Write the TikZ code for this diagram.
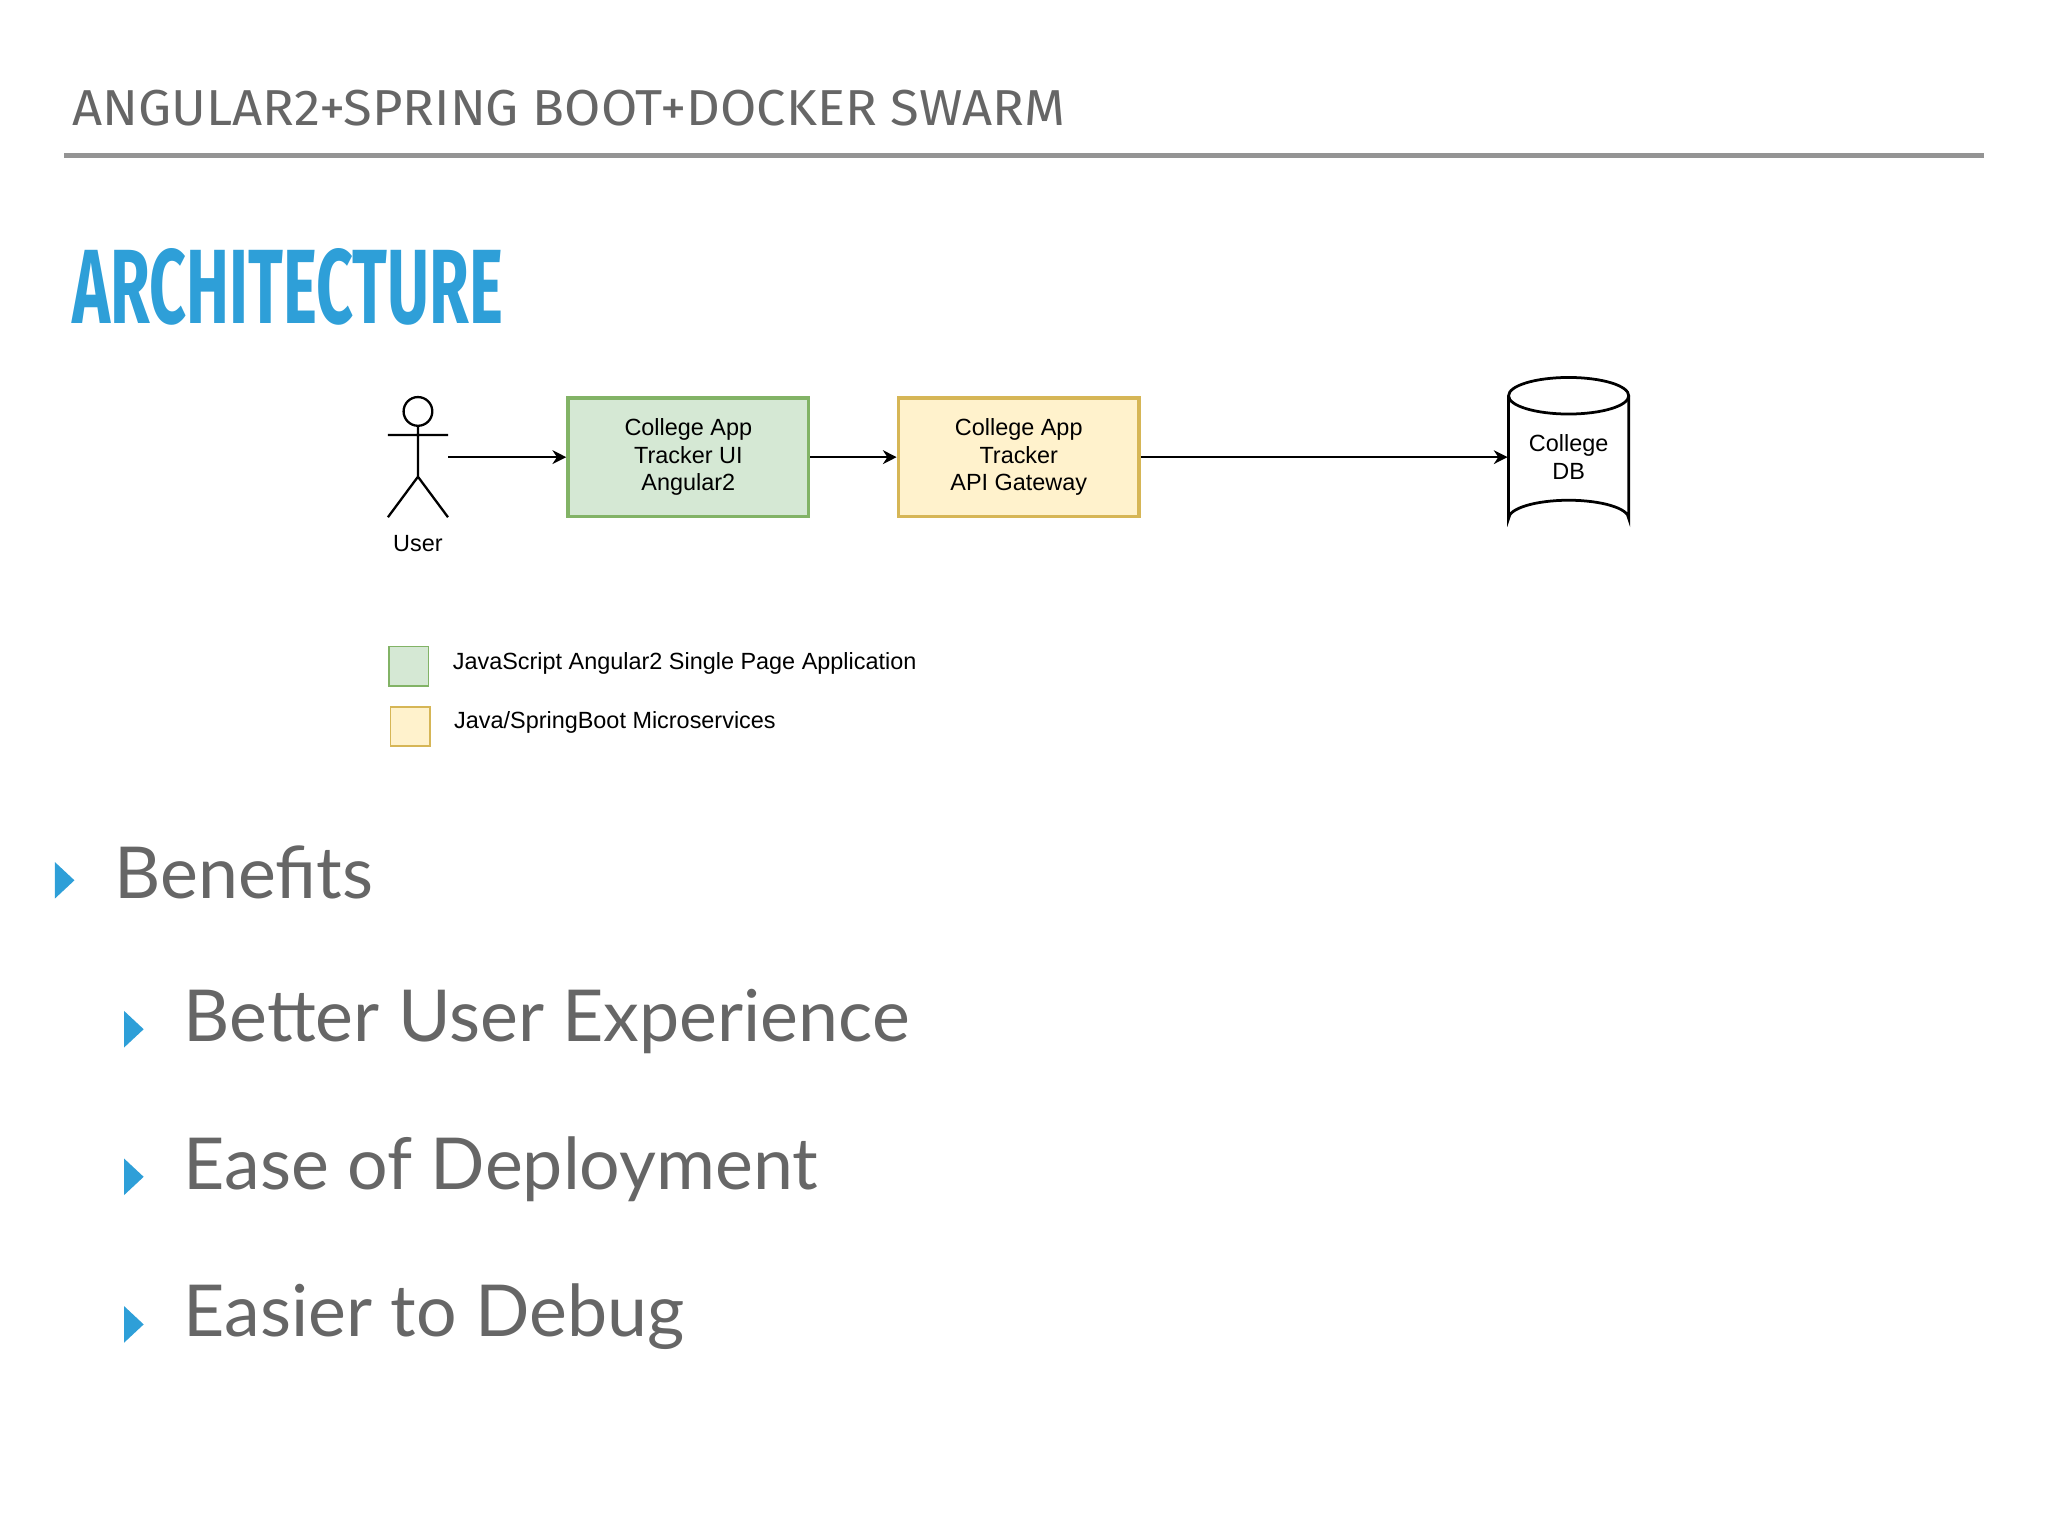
\documentclass[tikz,border=0pt]{standalone}
\usepackage{fontspec}
\setmainfont{Liberation Sans}
\newfontfamily\headfont{Fira Sans}
\newfontfamily\bulletfont{Lato}
\usetikzlibrary{shapes.geometric,arrows.meta,positioning}
\definecolor{slidegray}{HTML}{666666}
\definecolor{titleblue}{HTML}{2E9FD8}
\definecolor{uigreen}{HTML}{D5E8D4}
\definecolor{uigreenline}{HTML}{82B366}
\definecolor{apiyellow}{HTML}{FFF2CC}
\definecolor{apiyellowline}{HTML}{D6B656}
\tikzset{
  small/.style={font=\fontsize{5.1}{6}\selectfont},
  box/.style={draw, line width=0.8pt, minimum width=1.84cm, minimum height=0.91cm,
    align=center, small, inner sep=0pt},
  flow/.style={-{Stealth[length=3pt,width=3pt]}, line width=0.5pt},
  bullet/.style={fill=titleblue, draw=none},
  item/.style={anchor=west, text=slidegray, inner sep=0pt, font=\bulletfont\fontsize{15.6}{18}\selectfont},
}
\begin{document}
\begin{tikzpicture}[x=0.01cm, y=-0.01cm]
\useasboundingbox (0,0) rectangle (1568,1176);

% header
\node[anchor=west, text=slidegray, inner sep=0pt, font=\headfont\fontsize{11}{13}\selectfont] (head) at (55,83)
  {\scalebox{1.04}[1]{ANGULAR2+SPRING BOOT+DOCKER SWARM}};
\draw[slidegray!70, line width=1pt] (49,119) -- (1519,119);
\node[anchor=west, text=titleblue, font=\headfont\bfseries\fontsize{23}{26}\selectfont, inner sep=0pt] (title) at (55,220)
  {\scalebox{0.61}[1]{ARCHITECTURE}};

% actor
\draw[line width=0.5pt] (320,315) circle (11);
\draw[line width=0.5pt] (320,326) -- (320,365) (297,333) -- (343,333)
  (297,396) -- (320,365) -- (343,396);
\coordinate (user) at (343,350);
\node[small] (userlabel) at (320,416) {User};

% boxes
\node[box, fill=uigreen, draw=uigreenline] (ui) at (527,350) {College App\\Tracker UI\\Angular2};
\node[box, fill=apiyellow, draw=apiyellowline] (gw) at (780,350) {College App\\Tracker\\API Gateway};

% database
\node[small, align=center, minimum width=0.92cm, minimum height=1.22cm] (db) at (1201,350) {College\\DB};
\draw[line width=0.6pt] (1155,303) -- (1155,397) arc[start angle=180, end angle=360, x radius=46, y radius=14]
  -- (1247,303);
\draw[line width=0.6pt] (1201,303) ellipse[x radius=46, y radius=14];

\draw[flow] (user) -- (ui);
\draw[flow] (ui) -- (gw);
\draw[flow] (gw) -- (db);

% legend
\node[draw=uigreenline, fill=uigreen, minimum size=0.3cm, inner sep=0pt] (lgreen) at (313,510) {};
\node[draw=apiyellowline, fill=apiyellow, minimum size=0.3cm, inner sep=0pt] (lyellow) at (314,556) {};
\node[anchor=west, small, inner sep=0pt] at (346,508) {JavaScript Angular2 Single Page Application};
\node[anchor=west, small, inner sep=0pt] at (347,553) {Java/SpringBoot Microservices};

% bullets
\fill[bullet] (42,660) -- (57,674) -- (42,688) -- cycle;
\node[item] (benefits) at (87,668) {Benefits};
\foreach \y/\txt in {782/Better User Experience, 895/Ease of Deployment, 1008/Easier to Debug}{
  \fill[bullet] (95,\y-8) -- (110,\y+6) -- (95,\y+20) -- cycle;
  \node[item] at (140,\y) {\txt};
}
\end{tikzpicture}
\end{document}
